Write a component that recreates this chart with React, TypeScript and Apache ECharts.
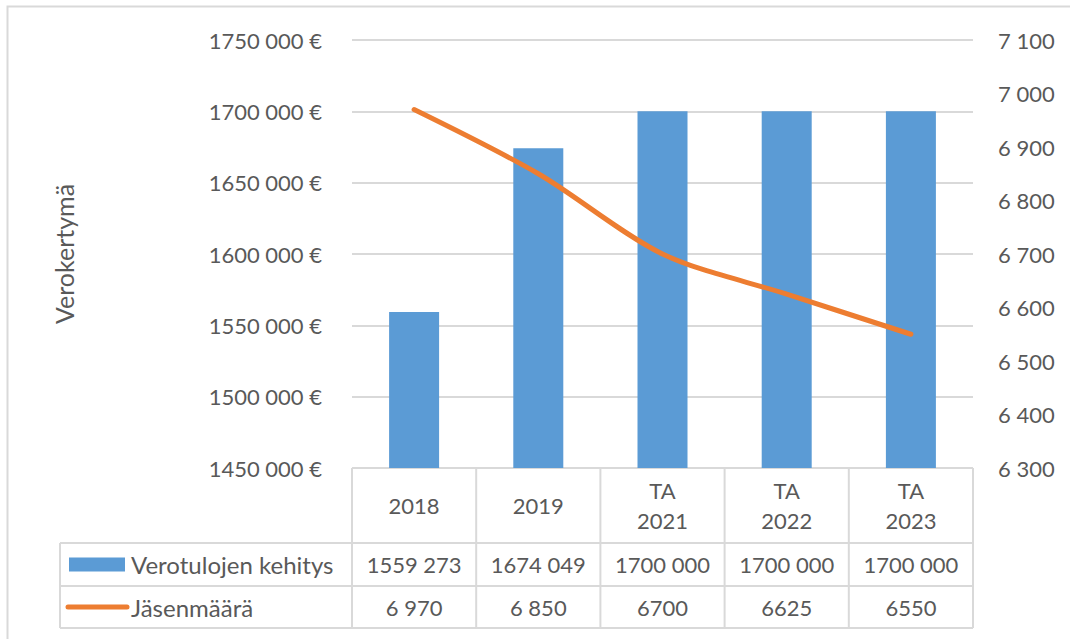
import React, { useEffect, useRef } from "react";
import * as echarts from "echarts";

const categories = ["2018", "2019", "TA\n2021", "TA\n2022", "TA\n2023"];
const taxRevenue = [1559273, 1674049, 1700000, 1700000, 1700000];
const members = [6970, 6850, 6700, 6625, 6550];
const taxRevenueLabels = ["1559 273", "1674 049", "1700 000", "1700 000", "1700 000"];
const memberLabels = ["6 970", "6 850", "6700", "6625", "6550"];
const seriesNames = ["Verotulojen kehitys", "Jäsenmäärä"];
const leftAxisName = "Verokertymä";
const leftAxisRange = [1450000, 1750000, 50000];
const rightAxisRange = [6300, 7100, 100];

const W = 1070;
const H = 639;
const GRID_L = 352;
const GRID_R = 973;
const GRID_T = 40;
const GRID_B = 468;
const ROW1 = 543;
const ROW2 = 586;
const ROW3 = 628;
const LEG_L = 60;
const FONT = "Lato, 'Open Sans', sans-serif";
const TXT = "#595959";
const LINE = "#D9D9D9";
const BLUE = "#5B9BD5";
const ORANGE = "#ED7D31";
const FS = 22;
const FS_WORD = 24;

const fmtGroup = (v: number) =>
  `${Math.floor(v / 1000)} ${String(Math.round(v % 1000)).padStart(3, "0")}`;

export default function App() {
  const ref = useRef<HTMLDivElement>(null);
  useEffect(() => {
    if (!ref.current) return;
    const chart = echarts.init(ref.current, undefined, { renderer: "svg" });
    const n = categories.length;
    const cw = (GRID_R - GRID_L) / n;
    const graphics: any[] = [];
    graphics.push({
      type: "rect",
      shape: { x: 7.5, y: 6.5, width: W + 10, height: H + 10 },
      style: { fill: "none", stroke: LINE, lineWidth: 2 },
      silent: true,
    });
    const hline = (x1: number, x2: number, y: number) =>
      graphics.push({
        type: "line",
        shape: { x1, y1: y, x2, y2: y },
        style: { stroke: LINE, lineWidth: 2 },
        silent: true,
      });
    const vline = (x: number, y1: number, y2: number) =>
      graphics.push({
        type: "line",
        shape: { x1: x, y1, x2: x, y2 },
        style: { stroke: LINE, lineWidth: 2 },
        silent: true,
      });
    hline(GRID_L, GRID_R, GRID_B);
    hline(LEG_L, GRID_R, ROW1);
    hline(LEG_L, GRID_R, ROW2);
    hline(LEG_L, GRID_R, ROW3);
    vline(LEG_L, ROW1, ROW3);
    for (let i = 0; i <= n; i++) vline(GRID_L + i * cw, GRID_B, ROW3);
    const rowTexts = [taxRevenueLabels, memberLabels];
    const rowY = [(ROW1 + ROW2) / 2, (ROW2 + ROW3) / 2];
    rowTexts.forEach((arr, r) => {
      arr.forEach((t, i) => {
        graphics.push({
          type: "text",
          x: GRID_L + (i + 0.5) * cw,
          y: rowY[r],
          style: {
            text: t,
            fill: TXT,
            font: `${FS}px ${FONT}`,
            align: "center",
            verticalAlign: "middle",
          },
          silent: true,
        });
      });
    });
    graphics.push({
      type: "rect",
      shape: { x: 69, y: rowY[0] - 7, width: 56, height: 14 },
      style: { fill: BLUE },
      silent: true,
    });
    graphics.push({
      type: "line",
      shape: { x1: 68, y1: rowY[1], x2: 127, y2: rowY[1] },
      style: { stroke: ORANGE, lineWidth: 5, lineCap: "round" },
      silent: true,
    });
    seriesNames.forEach((name, r) => {
      graphics.push({
        type: "text",
        x: 131,
        y: rowY[r],
        style: {
          text: name,
          fill: TXT,
          font: `${FS_WORD}px ${FONT}`,
          align: "left",
          verticalAlign: "middle",
        },
        silent: true,
      });
    });

    chart.setOption({
      animation: false,
      backgroundColor: "#fff",
      grid: {
        left: GRID_L,
        right: W - GRID_R,
        top: GRID_T,
        height: GRID_B - GRID_T,
        outerBoundsMode: "none",
      },
      xAxis: {
        type: "category",
        data: categories,
        axisLine: { show: false },
        axisTick: { show: false },
        axisLabel: {
          color: TXT,
          fontFamily: FONT,
          fontSize: FS,
          lineHeight: 30,
          verticalAlign: "middle",
          margin: 37,
          interval: 0,
        },
      },
      yAxis: [
        {
          type: "value",
          min: leftAxisRange[0],
          max: leftAxisRange[1],
          interval: leftAxisRange[2],
          name: leftAxisName,
          nameLocation: "middle",
          nameGap: 276,
          nameTextStyle: { color: TXT, fontFamily: FONT, fontSize: 25 },
          axisLine: { show: false },
          axisTick: { show: false },
          splitLine: { lineStyle: { color: LINE, width: 2 } },
          axisLabel: {
            color: TXT,
            fontFamily: FONT,
            fontSize: FS,
            margin: 30,
            formatter: (v: number) => `${fmtGroup(v)} €`,
          },
        },
        {
          type: "value",
          position: "right",
          min: rightAxisRange[0],
          max: rightAxisRange[1],
          interval: rightAxisRange[2],
          axisLine: { show: false },
          axisTick: { show: false },
          splitLine: { show: false },
          axisLabel: {
            color: TXT,
            fontFamily: FONT,
            fontSize: FS,
            margin: 25,
            formatter: (v: number) => fmtGroup(v),
          },
        },
      ],
      series: [
        {
          name: seriesNames[0],
          type: "bar",
          data: taxRevenue,
          barWidth: 50,
          itemStyle: { color: BLUE },
          yAxisIndex: 0,
        },
        {
          name: seriesNames[1],
          type: "line",
          data: members,
          yAxisIndex: 1,
          smooth: 0.3,
          symbol: "none",
          lineStyle: { color: ORANGE, width: 5, cap: "round" },
        },
      ],
      graphic: graphics,
    });
    return () => chart.dispose();
  }, []);
  return (
    <div
      ref={ref}
      style={{ position: "fixed", left: 0, top: 0, width: W, height: H }}
    />
  );
}
